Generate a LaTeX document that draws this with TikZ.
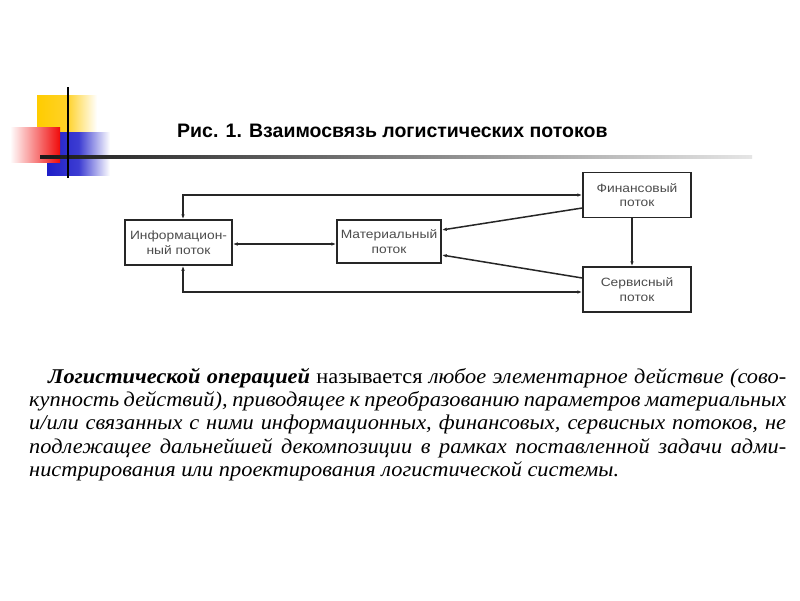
\documentclass[tikz,border=0pt]{standalone}
\usepackage{fontspec}
\setmainfont{Liberation Serif}[FakeStretch=1.065]
\newfontfamily\titlefont{Liberation Sans}
\newfontfamily\boxfont{Liberation Sans}[FakeStretch=1.15]
\usetikzlibrary{arrows.meta,calc}
\begin{document}
\begin{tikzpicture}[x=1pt,y=-1pt,
  flowbox/.style={draw=black!85,line width=1.5pt,inner sep=0pt,align=center,
    font=\boxfont\fontsize{12}{14.5}\selectfont,text=black!70},
  conn/.style={line width=1.5pt,draw=black!85,{Latex[length=5pt,width=3.5pt]}-{Latex[length=5pt,width=3.5pt]}},
  oneway/.style={line width=1.5pt,draw=black!85,-{Latex[length=5pt,width=3.5pt]}},
  paraline/.style={anchor=base west,inner sep=0pt,font=\fontsize{21}{25}\selectfont}]
\useasboundingbox (0,0) rectangle (800,600);
\fill[white] (0,0) rectangle (800,600);
% decoration
\shade[left color={rgb,255:red,255;green,204;blue,0},right color=white,middle color={rgb,255:red,255;green,210;blue,40}] (37,95) rectangle (97,133);
\shade[left color={rgb,255:red,30;green,30;blue,200},right color=white,middle color={rgb,255:red,60;green,60;blue,210}] (47,132) rectangle (110,175);
\shade[shading angle=-60,left color=white,right color={rgb,255:red,240;green,10;blue,10}] (10,127) rectangle (60,162);
\shade[left color=black!90,right color=black!10] (40,155.6) rectangle (752,158.6);
\draw[line width=1.6pt,black] (68,87) -- (68,178);
% title
\node[anchor=base west,inner sep=0pt,font=\titlefont\bfseries\fontsize{19.5}{23}\selectfont] (title) at (177,137) {Рис. 1. Взаимосвязь логистических потоков};
% boxes
\node[flowbox,minimum width=107pt,minimum height=45pt] (info) at (178.5,242.5) {Информацион-\\ный поток};
\node[flowbox,minimum width=104pt,minimum height=43pt] (mat) at (389,241.5) {Материальный\\поток};
\node[flowbox,minimum width=108pt,minimum height=45pt] (fin) at (637,195) {Финансовый\\поток};
\node[flowbox,minimum width=108pt,minimum height=45pt] (serv) at (637,289.5) {Сервисный\\поток};
% connectors
\draw[conn] ([xshift=4.5pt]info.north) |- (fin.west);
\draw[conn] ([xshift=4.5pt]info.south) |- ([yshift=-2.5pt]serv.west);
\draw[conn] ([yshift=-1.5pt]info.east) -- ([yshift=-2.5pt]mat.west);
\draw[oneway] ([yshift=-13pt]fin.west) -- ([yshift=11.5pt]mat.east);
\draw[oneway] ([yshift=11.5pt]serv.west) -- ([yshift=-13.5pt]mat.east);
\draw[oneway] ([xshift=-5pt]fin.south) -- ([xshift=-5pt]serv.north);
% paragraph
\node[paraline] (p1) at (48,383) {\makebox[738pt][s]{\textbf{\textit{Логистической операцией}} называется \textit{любое элементарное действие (сово-}}};
\node[paraline] (p2) at (29,406) {\makebox[757pt][s]{\textit{купность действий), приводящее к преобразованию параметров материальных}}};
\node[paraline] (p3) at (29,429.5) {\makebox[757pt][s]{\textit{и/или связанных с ними информационных, финансовых, сервисных потоков, не}}};
\node[paraline] (p4) at (29,453) {\makebox[757pt][s]{\textit{подлежащее дальнейшей декомпозиции в рамках поставленной задачи адми-}}};
\node[paraline] (p5) at (29,476) {\textit{нистрирования или проектирования логистической системы.}};
\end{tikzpicture}
\end{document}
